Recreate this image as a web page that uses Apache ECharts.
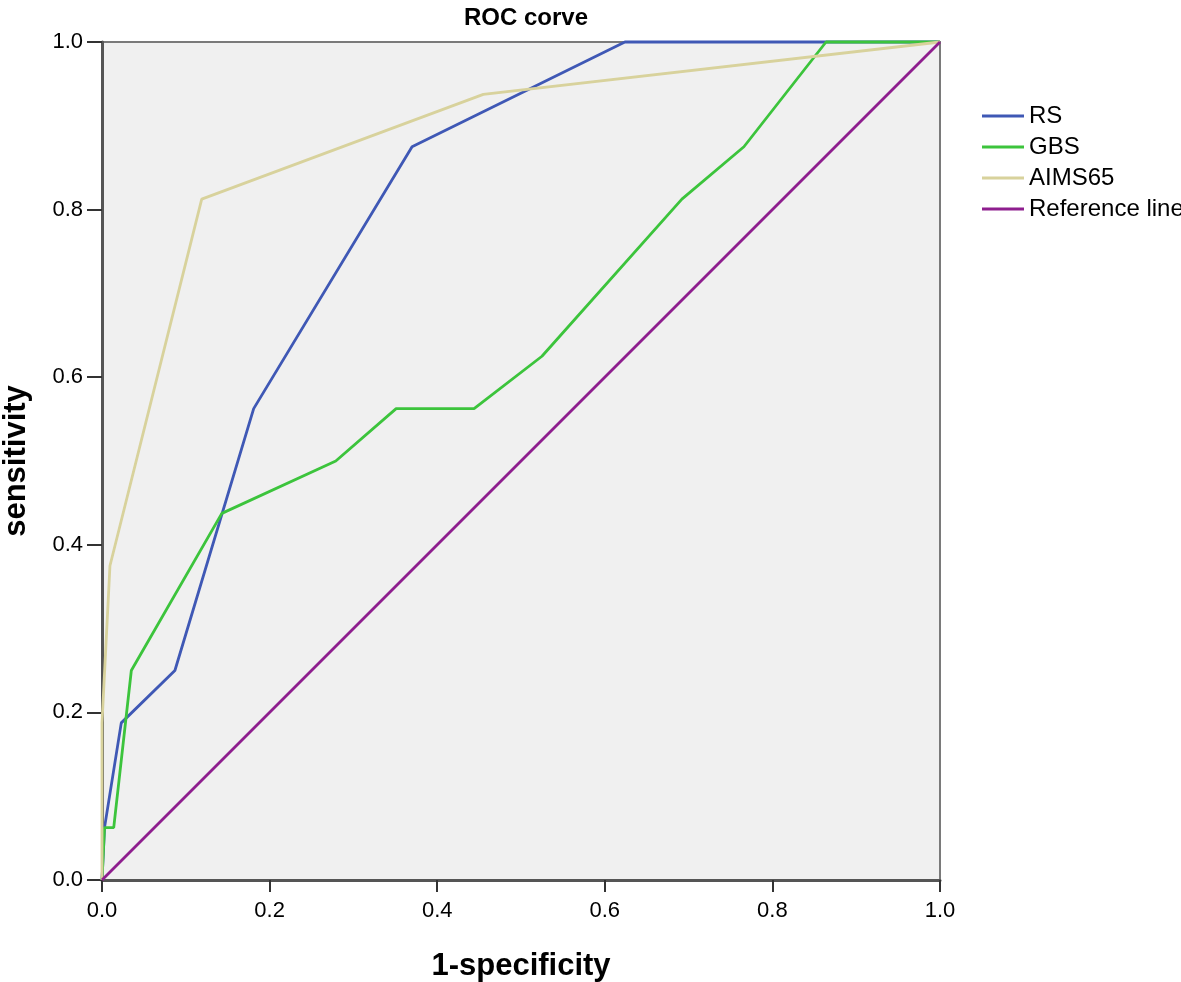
<!DOCTYPE html>
<html>
<head>
<meta charset="utf-8">
<script src="https://cdn.jsdelivr.net/npm/echarts@6/dist/echarts.min.js"></script>
<style>
html,body{margin:0;padding:0;background:#fff;}
#chart{width:1181px;height:982px;}
</style>
</head>
<body>
<div id="chart"></div>
<script>
var titleText = "ROC corve";
var xAxisName = "1-specificity";
var yAxisName = "sensitivity";
var seriesNames = ["RS", "GBS", "AIMS65", "Reference line"];
var seriesColors = ["#3F58B5", "#3CC43C", "#D8D29C", "#8E1E8E"];

var rsX = [0, 0.003, 0.023, 0.087, 0.181, 0.370, 0.624, 1.0];
var rsY = [0, 0.0625, 0.1875, 0.25, 0.5625, 0.875, 1.0, 1.0];

var gbsX = [0, 0.003, 0.014, 0.035, 0.143, 0.279, 0.351, 0.444, 0.525, 0.692, 0.766, 0.864, 1.0];
var gbsY = [0, 0.0625, 0.0625, 0.25, 0.4375, 0.5, 0.5625, 0.5625, 0.625, 0.8125, 0.875, 1.0, 1.0];

var aimsX = [0, 0.0, 0.0095, 0.119, 0.455, 1.0];
var aimsY = [0, 0.1875, 0.375, 0.8125, 0.9375, 1.0];

var refX = [0, 1];
var refY = [0, 1];

var tickValues = [0, 0.2, 0.4, 0.6, 0.8, 1.0];

function pairs(xs, ys) { return xs.map(function (x, i) { return [x, ys[i]]; }); }

var chart = echarts.init(document.getElementById('chart'), null, {renderer: 'canvas'});
var font = "'Liberation Sans', Arial, sans-serif";

function mkSeries(name, xs, ys, color) {
  return {
    name: name, type: 'line', data: pairs(xs, ys),
    showSymbol: false, symbol: 'none', clip: false,
    lineStyle: {color: color, width: 2.8},
    itemStyle: {color: color},
    animation: false
  };
}

function fmt(v) {
  for (var i = 0; i < tickValues.length; i++) {
    if (Math.abs(tickValues[i] - v) < 1e-9) return tickValues[i].toFixed(1);
  }
  return v.toFixed(1);
}

chart.setOption({
  animation: false,
  title: {
    text: titleText, left: 521, top: 1, textAlign: 'center',
    textStyle: {fontFamily: font, fontSize: 24, fontWeight: 'bold', color: '#000'}
  },
  grid: {
    left: 102, top: 42, width: 838, height: 838,
    containLabel: false, outerBoundsMode: 'none',
    show: true, backgroundColor: '#F0F0F0', borderColor: '#7a7a7a', borderWidth: 2
  },
  legend: {
    orient: 'vertical', left: 977, top: 99, itemGap: 7,
    itemWidth: 42, itemHeight: 3, icon: 'rect',
    data: seriesNames,
    textStyle: {fontFamily: font, fontSize: 24, color: '#000'}
  },
  xAxis: {
    type: 'value', min: 0, max: 1, interval: 0.2,
    name: xAxisName, nameLocation: 'middle', nameGap: 71,
    nameTextStyle: {fontFamily: font, fontSize: 31, fontWeight: 'bold', color: '#000'},
    axisLine: {show: true, onZero: false, lineStyle: {color: '#555', width: 3}},
    axisTick: {show: true, length: 12, lineStyle: {color: '#333', width: 2}},
    axisLabel: {fontFamily: font, fontSize: 22, color: '#000', margin: 20, formatter: fmt},
    splitLine: {show: false}
  },
  yAxis: {
    type: 'value', min: 0, max: 1, interval: 0.2,
    name: yAxisName, nameLocation: 'middle', nameGap: 70, nameRotate: 90,
    nameTextStyle: {fontFamily: font, fontSize: 31, fontWeight: 'bold', color: '#000'},
    axisLine: {show: true, onZero: false, lineStyle: {color: '#555', width: 3}},
    axisTick: {show: true, length: 15, lineStyle: {color: '#333', width: 2}},
    axisLabel: {fontFamily: font, fontSize: 22, color: '#000', margin: 19, formatter: fmt},
    splitLine: {show: false}
  },
  series: [
    mkSeries(seriesNames[0], rsX, rsY, seriesColors[0]),
    mkSeries(seriesNames[1], gbsX, gbsY, seriesColors[1]),
    mkSeries(seriesNames[2], aimsX, aimsY, seriesColors[2]),
    mkSeries(seriesNames[3], refX, refY, seriesColors[3])
  ]
});
</script>
</body>
</html>
